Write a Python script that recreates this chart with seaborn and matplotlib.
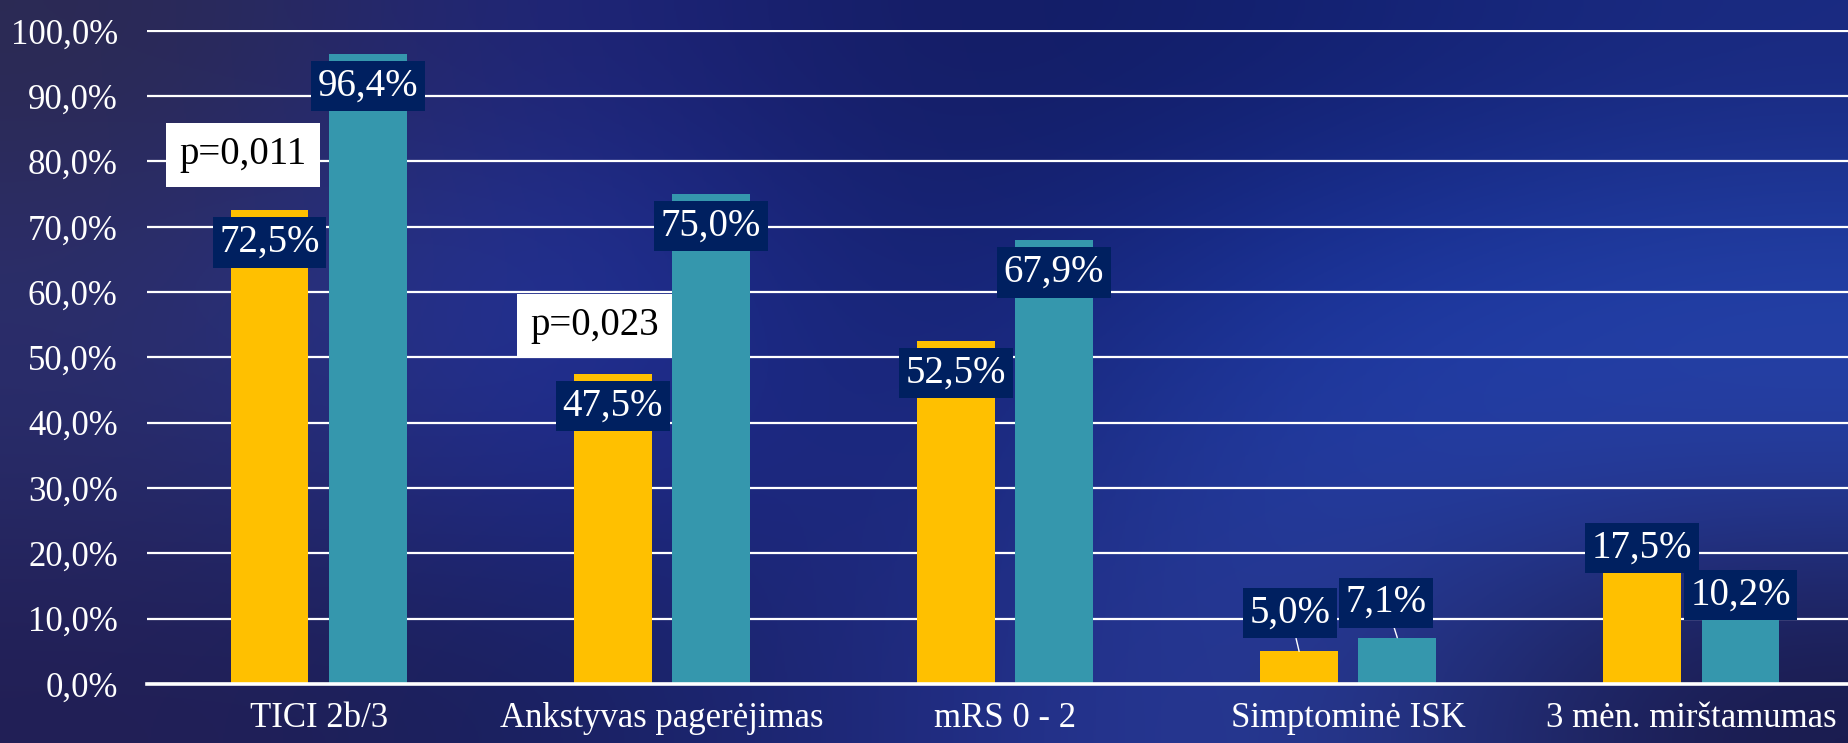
import numpy as np
import pandas as pd
import seaborn as sns
import matplotlib.pyplot as plt
from matplotlib.colors import to_rgb

# ---- data -------------------------------------------------------------
categories = ["TICI 2b/3", "Ankstyvas pagerėjimas", "mRS 0 - 2",
              "Simptominė ISK", "3 mėn. mirštamumas"]
group_names = ["I grupė", "II grupė"]
values_group1 = [72.5, 47.5, 52.5, 5.0, 17.5]
values_group2 = [96.4, 75.0, 67.9, 7.1, 10.2]
y_ticks = [0, 10, 20, 30, 40, 50, 60, 70, 80, 90, 100]
p_labels = ["p=0,011", "p=0,023"]

# ---- style ------------------------------------------------------------
sns.set_style("white")
plt.rcParams["font.family"] = ["Liberation Serif", "DejaVu Serif"]

YELLOW = "#FFC000"
TEAL = "#3597AD"
LABEL_BG = "#002060"

df = pd.DataFrame({
    "kategorija": categories * 2,
    "grupė": [group_names[0]] * len(categories) + [group_names[1]] * len(categories),
    "reikšmė": values_group1 + values_group2,
})

W, H = 1849, 743
fig = plt.figure(figsize=(W / 100, H / 100), dpi=100)

# slide-like backdrop: smooth blend of a few colour anchors
anchors = [
    ["#2c2a52", "#1f2680", "#141c60", "#122070", "#1a2a80"],
    ["#2c2e6a", "#2438a8", "#141e66", "#1a34a0", "#2242aa"],
    ["#282b66", "#1f2c92", "#1a2472", "#2440a8", "#283ea0"],
    ["#221f55", "#18205e", "#202a80", "#2a3f9e", "#1a1a4a"],
]
grid = np.array([[to_rgb(c) for c in row] for row in anchors])
bg = fig.add_axes([0, 0, 1, 1], zorder=0)
bg.imshow(grid, aspect="auto", interpolation="bicubic", extent=[0, 1, 0, 1])
bg.set_xlim(0, 1)
bg.set_ylim(0, 1)
bg.axis("off")

# plot area (right end of the last slot runs past the figure edge)
left_px, right_px, top_px, bottom_px = 147, 1863, 29.5, 684
ax = fig.add_axes([left_px / W, (H - bottom_px) / H,
                   (right_px - left_px) / W, (bottom_px - top_px) / H], zorder=1)
ax.patch.set_alpha(0)

sns.barplot(data=df, x="kategorija", y="reikšmė", hue="grupė",
            palette=[YELLOW, TEAL], saturation=1, width=0.572, gap=0.206,
            legend=False, ax=ax, zorder=2)
for bar in ax.patches:
    bar.set_edgecolor("none")

ax.set_xlim(-0.5, len(categories) - 0.5)
ax.set_ylim(0, 100.2)
ax.set_yticks(y_ticks)
ax.set_yticklabels([f"{v:.1f}%".replace(".", ",") for v in y_ticks])
ax.set_xlabel("")
ax.set_ylabel("")

ax.yaxis.grid(True, color="white", linewidth=1.6)
ax.xaxis.grid(False)
ax.set_axisbelow(True)
for side in ["top", "right", "left"]:
    ax.spines[side].set_visible(False)
ax.spines["bottom"].set_color("white")
ax.spines["bottom"].set_linewidth(2.6)
ax.spines["bottom"].set_zorder(3)

ax.tick_params(axis="y", length=0, labelsize=25, labelcolor="white", pad=21)
ax.tick_params(axis="x", length=0, labelsize=25, labelcolor="white", pad=13)

# ---- value labels -----------------------------------------------------
PX = 0.72  # pixels -> points
placement = [
    [("in", 0, -32), ("in", 0, -32), ("in", 0, -32), ("lead", -9, 38), ("out", 0, 22)],
    [("in", 0, -32), ("in", 0, -32), ("in", 0, -32), ("lead", -11, 35), ("out", 0, 22)],
]
series = [values_group1, values_group2]
for k, container in enumerate(ax.containers):
    for i, bar in enumerate(container):
        val = series[k][i]
        xc = bar.get_x() + bar.get_width() / 2
        kind, dx, dy = placement[k][i]
        arrow = None
        if kind == "lead":
            arrow = dict(arrowstyle="-", color="white", lw=1.0,
                         shrinkA=0, shrinkB=0)
        ax.annotate(f"{val:.1f}%".replace(".", ","), xy=(xc, val),
                    xytext=(dx * PX, dy * PX), textcoords="offset points",
                    ha="center", va="center", fontsize=28, color="white",
                    bbox=dict(boxstyle="square,pad=0.17", fc=LABEL_BG, ec="none"),
                    arrowprops=arrow, zorder=5)

# ---- significance boxes ----------------------------------------------
p_pos = [(-0.22, 81.0), (1 - 0.197, 54.9)]
for text, (px, py) in zip(p_labels, p_pos):
    ax.text(px, py, text, ha="center", va="center", fontsize=28, color="black",
            bbox=dict(boxstyle="square,pad=0.34", fc="white", ec="none"), zorder=5)

fig.savefig("out.png", dpi=100)
